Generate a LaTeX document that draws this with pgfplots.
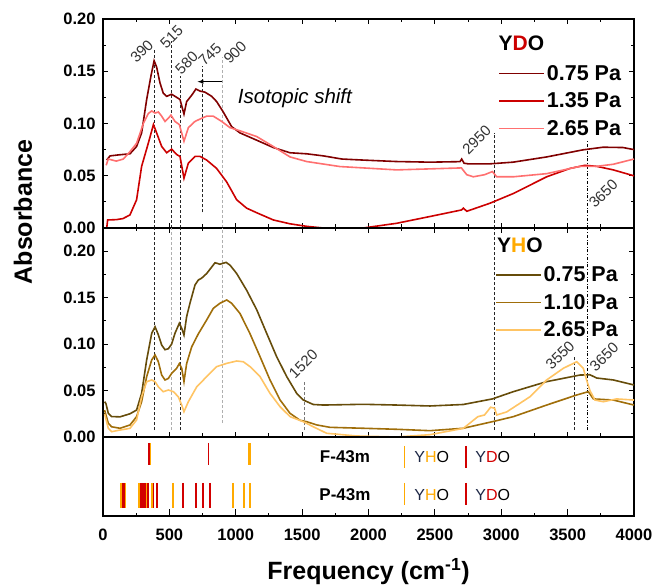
\documentclass[border=0pt]{standalone}
\usepackage{pgfplots}
\pgfplotsset{compat=1.18}
\usepackage{fontspec}
\setmainfont{Liberation Sans}
\definecolor{ydoA}{RGB}{128,0,0}
\definecolor{ydoB}{RGB}{204,0,0}
\definecolor{ydoC}{RGB}{255,112,112}
\definecolor{yhoA}{RGB}{102,76,10}
\definecolor{yhoB}{RGB}{160,110,10}
\definecolor{yhoC}{RGB}{255,196,100}
\definecolor{barO}{RGB}{255,170,0}
\definecolor{barR}{RGB}{210,0,0}
\definecolor{navy}{RGB}{30,40,70}
\definecolor{lgray}{RGB}{175,175,175}
\definecolor{mgray}{RGB}{120,120,120}
\pgfplotsset{
  panel/.style={
    width=531pt, scale only axis, xmin=0, xmax=4000,
    xtick={0,500,1000,1500,2000,2500,3000,3500,4000}, minor x tick num=1,
    axis line style={line width=1.1pt},
    every tick/.style={black, line width=0.9pt},
    major tick length=5pt, minor tick length=3.5pt,
    tick label style={font=\fontsize{16.5}{18}\selectfont\bfseries},
    /pgf/number format/assume math mode=true,
    /pgf/number format/1000 sep={},
    yticklabel style={xshift=-4pt, /pgf/number format/.cd, fixed, fixed zerofill, precision=2},
    legend cell align=left,
    legend image code/.code={\draw[##1, line width=1.6pt] (0pt,0pt) -- (45pt,0pt);},
  },
}
\tikzset{
  lbl/.style={rotate=45, font=\fontsize{15}{15}\selectfont, text=black!80},
  vl/.style={densely dashed, line width=0.7pt, black!85},
}
\begin{document}
\begin{tikzpicture}
% ---------------- top panel: YDO
\begin{axis}[panel, name=top, at={(0,0)}, anchor=north west, height=209pt,
  ymin=0, ymax=0.2, ytick={0,0.05,0.1,0.15,0.2}, minor y tick num=1,
  xticklabel=\empty,
  legend style={draw=none, fill=none, at={(0.744,0.79)}, anchor=north west,
    font=\fontsize{21.5}{22}\selectfont\bfseries, row sep=7pt, inner sep=0pt,
    /tikz/every even column/.append style={column sep=8pt}},
]
\draw[vl] (axis cs:390,0) -- (axis cs:390,0.172);
\draw[vl] (axis cs:515,0) -- (axis cs:515,0.179);
\draw[vl] (axis cs:580,0) -- (axis cs:580,0.145);
\draw[vl] (axis cs:745,0.015) -- (axis cs:745,0.155);
\draw[vl, lgray] (axis cs:900,0) -- (axis cs:900,0.164);
\draw[vl] (axis cs:2950,0) -- (axis cs:2950,0.091);
\draw[dash dot, line width=0.7pt] (axis cs:3650,0) -- (axis cs:3650,0.084);
\addplot[ydoA, line width=1.6pt] coordinates {(28,0.065) (53,0.069) (120,0.070) (203,0.071) (253,0.078) (291,0.091) (329,0.123) (362,0.146) (385,0.160) (404,0.154) (429,0.139) (454,0.129) (480,0.126) (517,0.128) (555,0.125) (580,0.123) (610,0.109) (630,0.121) (668,0.127) (700,0.133) (731,0.131) (768,0.130) (819,0.126) (856,0.121) (906,0.111) (969,0.097) (1032,0.091) (1158,0.084) (1283,0.077) (1409,0.072) (1534,0.071) (1660,0.069) (1800,0.066) (1959,0.065) (2212,0.0636) (2463,0.063) (2689,0.0635) (2702,0.066) (2720,0.062) (2750,0.0614) (2915,0.0614) (3089,0.063) (3342,0.068) (3616,0.0748) (3767,0.0773) (3917,0.077) (4000,0.075)};
\addlegendentry{0.75 Pa}
\addplot[ydoB, line width=1.6pt] coordinates {(28,0.0) (35,0.0077) (100,0.008) (150,0.009) (203,0.0125) (253,0.027) (291,0.059) (341,0.081) (380,0.099) (404,0.091) (442,0.078) (480,0.072) (517,0.0755) (555,0.0703) (580,0.0685) (610,0.0476) (643,0.0621) (693,0.0685) (731,0.0685) (781,0.065) (856,0.057) (932,0.044) (1007,0.027) (1082,0.019) (1158,0.0146) (1283,0.0077) (1409,0.004) (1534,0.0016) (1660,0.0) (1960,0.0) (2212,0.0045) (2463,0.011) (2702,0.0173) (2715,0.019) (2740,0.016) (2915,0.0237) (3091,0.033) (3342,0.049) (3518,0.057) (3631,0.060) (3719,0.059) (3844,0.0556) (4000,0.0499)};
\addlegendentry{1.35 Pa}
\addplot[ydoC, line width=1.6pt] coordinates {(24,0.060) (40,0.066) (100,0.064) (153,0.066) (203,0.073) (253,0.081) (304,0.100) (341,0.1095) (367,0.112) (392,0.110) (417,0.111) (442,0.107) (467,0.102) (492,0.105) (512,0.108) (542,0.102) (575,0.099) (610,0.083) (643,0.096) (693,0.102) (743,0.105) (781,0.107) (831,0.107) (894,0.102) (957,0.096) (1032,0.093) (1158,0.0875) (1283,0.078) (1409,0.068) (1534,0.0636) (1785,0.0588) (1961,0.0575) (2212,0.0556) (2700,0.0575) (2740,0.051) (2790,0.049) (2874,0.051) (2933,0.054) (2966,0.049) (3091,0.049) (3342,0.052) (3593,0.059) (3719,0.059) (3844,0.061) (4000,0.066)};
\addlegendentry{2.65 Pa}
\node[lbl] at (axis cs:292,0.169) {390};
\node[lbl] at (axis cs:517,0.183) {515};
\node[lbl] at (axis cs:630,0.158) {580};
\node[lbl] at (axis cs:806,0.166) {745};
\node[lbl] at (axis cs:994,0.168) {900};
\node[lbl] at (axis cs:2815,0.084) {2950};
\node[lbl] at (axis cs:3769,0.033) {3650};
\draw[-latex, line width=1pt] (axis cs:900,0.140) -- (axis cs:712,0.140);
\node[anchor=west, font=\fontsize{20.5}{20}\selectfont\itshape] at (axis cs:990,0.124) {Isotopic shift};
\node[font=\fontsize{21}{20}\selectfont\bfseries] at (axis description cs:0.788,0.884) {Y\textcolor{ydoB}{D}O};
\end{axis}
% ---------------- middle panel: YHO
\begin{axis}[panel, name=bot, at={(top.south west)}, anchor=north west, height=209pt,
  ymin=0, ymax=0.225, ytick={0,0.05,0.1,0.15,0.2}, minor y tick num=1,
  xticklabel=\empty,
  legend style={draw=none, fill=none, at={(0.738,0.826)}, anchor=north west,
    font=\fontsize{21.5}{22}\selectfont\bfseries, row sep=7pt, inner sep=0pt,
    /tikz/every even column/.append style={column sep=8pt}},
]
\draw[vl] (axis cs:390,0.0075) -- (axis cs:390,0.225);
\draw[vl, lgray] (axis cs:515,0.0075) -- (axis cs:515,0.225);
\draw[vl] (axis cs:580,0.0075) -- (axis cs:580,0.225);
\draw[vl, lgray] (axis cs:900,0.015) -- (axis cs:900,0.225);
\draw[vl, mgray] (axis cs:1520,0.0075) -- (axis cs:1520,0.061);
\draw[vl] (axis cs:2950,0.0075) -- (axis cs:2950,0.225);
\draw[vl] (axis cs:3550,0.0075) -- (axis cs:3550,0.088);
\draw[dash dot, line width=0.7pt] (axis cs:3650,0.0075) -- (axis cs:3650,0.225);
\addplot[yhoA, line width=1.6pt] coordinates {(12,0.038) (22,0.036) (40,0.0255) (65,0.022) (128,0.0217) (203,0.025) (253,0.029) (291,0.047) (329,0.083) (367,0.1116) (392,0.1187) (417,0.110) (442,0.099) (467,0.094) (492,0.095) (517,0.100) (542,0.1116) (575,0.1224) (593,0.117) (610,0.1098) (630,0.1295) (655,0.144) (693,0.1636) (718,0.169) (743,0.171) (781,0.176) (819,0.183) (844,0.1876) (881,0.186) (927,0.188) (957,0.185) (1007,0.176) (1082,0.158) (1158,0.137) (1233,0.1116) (1308,0.0865) (1384,0.065) (1459,0.047) (1509,0.0398) (1584,0.035) (1660,0.0344) (1961,0.0352) (2212,0.0344) (2463,0.0334) (2714,0.035) (2933,0.041) (3091,0.0488) (3342,0.0596) (3593,0.0667) (3668,0.067) (3719,0.0635) (3844,0.0614) (4000,0.056)};
\addlegendentry{0.75 Pa}
\addplot[yhoB, line width=1.6pt] coordinates {(12,0.029) (40,0.0147) (65,0.011) (128,0.0094) (203,0.0129) (253,0.0219) (291,0.038) (329,0.065) (367,0.083) (392,0.0883) (417,0.081) (442,0.0667) (467,0.0614) (492,0.063) (517,0.0685) (555,0.074) (575,0.079) (593,0.074) (610,0.0596) (630,0.079) (668,0.097) (718,0.111) (781,0.126) (831,0.1385) (881,0.144) (932,0.1475) (969,0.144) (1032,0.133) (1108,0.111) (1183,0.0865) (1258,0.0614) (1334,0.0398) (1409,0.0255) (1484,0.018) (1534,0.0165) (1610,0.013) (1710,0.0104) (1961,0.0094) (2212,0.0083) (2463,0.0068) (2714,0.0094) (2933,0.0165) (2966,0.0176) (3091,0.0219) (3342,0.0344) (3568,0.0452) (3656,0.0488) (3694,0.041) (3844,0.0398) (4000,0.0344)};
\addlegendentry{1.10 Pa}
\addplot[yhoC, line width=1.6pt] coordinates {(12,0.025) (40,0.0093) (65,0.0057) (128,0.0075) (203,0.0093) (253,0.0183) (291,0.0434) (329,0.0595) (367,0.0614) (392,0.0596) (417,0.054) (454,0.0488) (492,0.0506) (530,0.0488) (567,0.0434) (593,0.0344) (610,0.0272) (643,0.038) (706,0.054) (781,0.065) (856,0.0757) (932,0.0793) (1007,0.0818) (1057,0.081) (1108,0.0757) (1183,0.065) (1258,0.047) (1334,0.0326) (1409,0.0219) (1509,0.0165) (1584,0.011) (1685,0.004) (1911,0.0011) (2212,0.0) (2463,0.0025) (2714,0.0093) (2824,0.0219) (2874,0.0237) (2920,0.032) (2950,0.031) (2966,0.0237) (3041,0.027) (3217,0.0434) (3342,0.0614) (3468,0.074) (3568,0.081) (3618,0.074) (3643,0.0614) (3668,0.050) (3706,0.0398) (3769,0.038) (3869,0.041) (4000,0.0398)};
\addlegendentry{2.65 Pa}
\node[lbl] at (axis cs:1509,0.079) {1520};
\node[lbl] at (axis cs:3443,0.088) {3550};
\node[lbl] at (axis cs:3774,0.086) {3650};
\node[font=\fontsize{21}{20}\selectfont\bfseries] at (axis description cs:0.785,0.919) {Y\textcolor{barO}{H}O};
\end{axis}
% ---------------- bottom panel: calculated modes
\begin{axis}[panel, name=bars, at={(bot.south west)}, anchor=north west, height=79pt,
  ymin=0, ymax=1, ytick=\empty, xtick pos=left, major tick length=7pt,
  xticklabel style={yshift=-9pt},
]
% F-43m
\addplot[only marks, mark=|, mark size=11pt, mark options={barO, line width=2.6pt}] coordinates {(349,0.785) (1102,0.785)};
\addplot[only marks, mark=|, mark size=11pt, mark options={barR, line width=1.8pt}] coordinates {(349,0.785) (794,0.785)};
% P-43m
\addplot[only marks, mark=|, mark size=12.5pt, mark options={barO, line width=2.2pt}] coordinates {(140,0.26) (168,0.26) (272,0.26) (300,0.26) (330,0.26) (367,0.26) (530,0.26) (600,0.26) (982,0.26) (1062,0.26) (1107,0.26)};
\addplot[only marks, mark=|, mark size=12.5pt, mark options={barR, line width=1.8pt}] coordinates {(150,0.26) (160,0.26) (285,0.26) (295,0.26) (310,0.26) (320,0.26) (340,0.26) (380,0.26) (404,0.26) (605,0.26) (700,0.26) (756,0.26) (806,0.26)};
% key glyphs
\addplot[only marks, mark=|, mark size=11pt, mark options={barO, line width=1.5pt}] coordinates {(2270,0.75) (2270,0.28)};
\addplot[only marks, mark=|, mark size=11pt, mark options={barR, line width=1.5pt}] coordinates {(2735,0.75) (2735,0.28)};
\node[font=\fontsize{17}{17}\selectfont\bfseries] at (axis cs:1823,0.75) {F-43m};
\node[font=\fontsize{17}{17}\selectfont\bfseries] at (axis cs:1823,0.27) {P-43m};
\node[font=\fontsize{16}{16}\selectfont] at (axis cs:2476,0.75) {\textcolor{navy}{Y}\textcolor{barO}{H}O};
\node[font=\fontsize{16}{16}\selectfont] at (axis cs:2476,0.27) {\textcolor{navy}{Y}\textcolor{barO}{H}O};
\node[font=\fontsize{16}{16}\selectfont] at (axis cs:2936,0.75) {\textcolor{navy}{Y}\textcolor{barR}{D}O};
\node[font=\fontsize{16}{16}\selectfont] at (axis cs:2936,0.27) {\textcolor{navy}{Y}\textcolor{barR}{D}O};
\end{axis}
\node[rotate=90, font=\fontsize{25}{25}\selectfont\bfseries] at ([xshift=-80pt, yshift=16pt]top.south west) {Absorbance};
\node[font=\fontsize{25}{25}\selectfont\bfseries] at ([yshift=-56pt]bars.south) {Frequency (cm\textsuperscript{-1})};
\pgfresetboundingbox
\path ([xshift=-103pt, yshift=19pt]top.north west) rectangle ([xshift=20pt, yshift=-69pt]bars.south east);
\end{tikzpicture}
\end{document}
